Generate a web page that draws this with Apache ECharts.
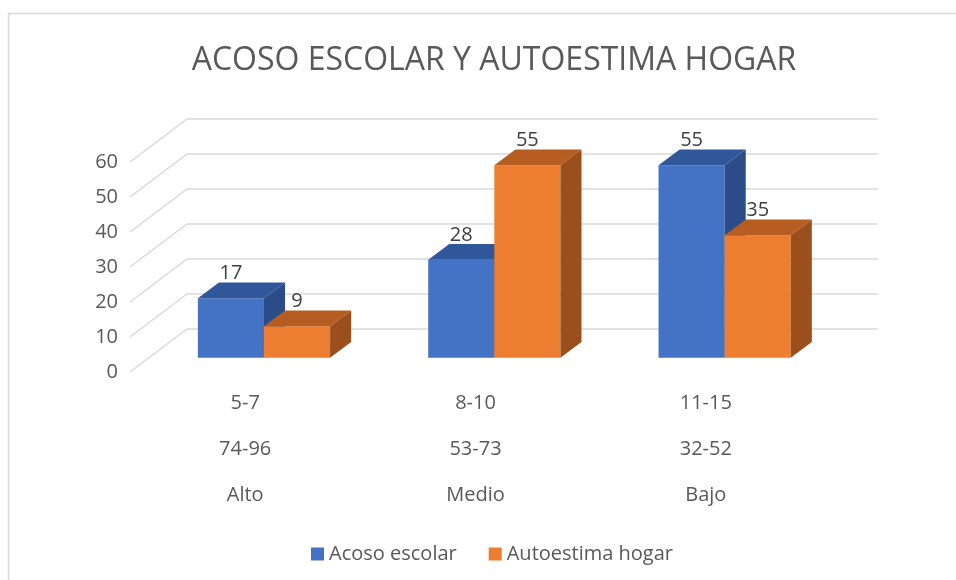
<!DOCTYPE html>
<html>
<head>
<meta charset="utf-8">
<title>Acoso escolar y autoestima hogar</title>
<script src="https://cdn.jsdelivr.net/npm/echarts@6/dist/echarts.min.js"></script>
<style>
  html, body { margin: 0; padding: 0; background: #fff; }
  #chart { width: 956px; height: 580px; }
</style>
</head>
<body>
<div id="chart"></div>
<script>
// datos
var categories = ['5-7\n74-96\nAlto', '8-10\n53-73\nMedio', '11-15\n32-52\nBajo']
var acosoEscolar = [17, 28, 55]
var autoestimaHogar = [9, 55, 35]
var yTicks = [0, 10, 20, 30, 40, 50, 60]

// profundidad del "3D" (px)
var DX = 57, DY = -43
var BAR_FRONT = 0.33   // posicion de la cara frontal de la barra en la profundidad
var BAR_DEPTH = 0.37   // profundidad de la barra
var BAR_W = 0.287      // ancho de cada barra respecto a la categoria

var chart = echarts.init(document.getElementById('chart'))

// lineas de division en perspectiva (diagonal izquierda + pared del fondo)
function gridRender(params, api) {
  var y = api.coord([0, api.value(1)])[1]
  var cs = params.coordSys
  var st = { stroke: '#D9D9D9', lineWidth: 1.5 }
  return {
    type: 'group',
    children: [
      { type: 'line', shape: { x1: cs.x, y1: y, x2: cs.x + DX, y2: y + DY }, style: st },
      { type: 'line', shape: { x1: cs.x + DX, y1: y + DY, x2: cs.x + cs.width + DX, y2: y + DY }, style: st }
    ]
  }
}

function barRender(side, front, top, right) {
  return function (params, api) {
    var idx = api.value(0)
    var v = api.value(1)
    var band = api.size([1, 0])[0]
    var w = band * BAR_W
    var base = api.coord([idx, 0])
    var yTop = api.coord([idx, v])[1] + DY * BAR_FRONT
    var yBase = base[1] + DY * BAR_FRONT
    var x0 = base[0] + (side === 0 ? -w : 0) + DX * BAR_FRONT
    var dx = DX * BAR_DEPTH, dy = DY * BAR_DEPTH
    return {
      type: 'group',
      children: [
        { type: 'rect', shape: { x: x0, y: yTop, width: w, height: yBase - yTop }, style: { fill: front } },
        { type: 'polygon', shape: { points: [[x0, yTop], [x0 + w, yTop], [x0 + w + dx, yTop + dy], [x0 + dx, yTop + dy]] }, style: { fill: top } },
        { type: 'polygon', shape: { points: [[x0 + w, yTop], [x0 + w + dx, yTop + dy], [x0 + w + dx, yBase + dy], [x0 + w, yBase]] }, style: { fill: right } },
        {
          type: 'text',
          style: {
            text: String(v), x: x0 + w / 2, y: yTop + dy + 1,
            align: 'center', verticalAlign: 'bottom',
            fill: '#404040', fontSize: 20, fontFamily: 'Open Sans'
          }
        }
      ]
    }
  }
}

var option = {
  animation: false,
  textStyle: { fontFamily: 'Open Sans' },
  graphic: [{
    type: 'rect',
    shape: { x: 8.5, y: 13.5, width: 1200, height: 1200 },
    style: { fill: 'none', stroke: '#D9D9D9', lineWidth: 1.5 },
    silent: true
  }],
  title: {
    text: 'ACOSO ESCOLAR Y AUTOESTIMA HOGAR',
    left: 489,
    textAlign: 'center',
    top: 40,
    textStyle: { fontSize: 32, fontWeight: 'normal', color: '#595959', fontFamily: 'Open Sans' }
  },
  legend: {
    data: ['Acoso escolar', 'Autoestima hogar'],
    left: 306,
    top: 539,
    icon: 'rect',
    itemWidth: 13,
    itemHeight: 13,
    itemGap: 32,
    textStyle: { fontSize: 20, color: '#595959', fontFamily: 'Open Sans' }
  },
  grid: {
    left: 130,
    right: 135,
    top: 162,
    bottom: 208
  },
  xAxis: {
    type: 'category',
    data: categories,
    axisLine: { show: false },
    axisTick: { show: false },
    axisLabel: {
      margin: 8,
      fontSize: 20,
      lineHeight: 46,
      color: '#595959',
      fontFamily: 'Open Sans'
    }
  },
  yAxis: {
    type: 'value',
    min: 0,
    max: 60,
    interval: 10,
    axisLine: { show: false },
    axisTick: { show: false },
    splitLine: { show: false },
    axisLabel: { margin: 12, fontSize: 20, color: '#595959', fontFamily: 'Open Sans' }
  },
  series: [
    {
      type: 'custom',
      silent: true,
      z: 1,
      renderItem: gridRender,
      data: yTicks.map(function (t) { return [0, t] })
    },
    {
      name: 'Acoso escolar',
      type: 'custom',
      z: 2,
      itemStyle: { color: '#4472C4' },
      renderItem: barRender(0, '#4472C4', '#31579B', '#2B4C88'),
      data: acosoEscolar.map(function (v, i) { return [i, v] })
    },
    {
      name: 'Autoestima hogar',
      type: 'custom',
      z: 3,
      itemStyle: { color: '#ED7D31' },
      renderItem: barRender(1, '#ED7D31', '#B65E21', '#9A4F1C'),
      data: autoestimaHogar.map(function (v, i) { return [i, v] })
    }
  ]
}

chart.setOption(option)
</script>
</body>
</html>
